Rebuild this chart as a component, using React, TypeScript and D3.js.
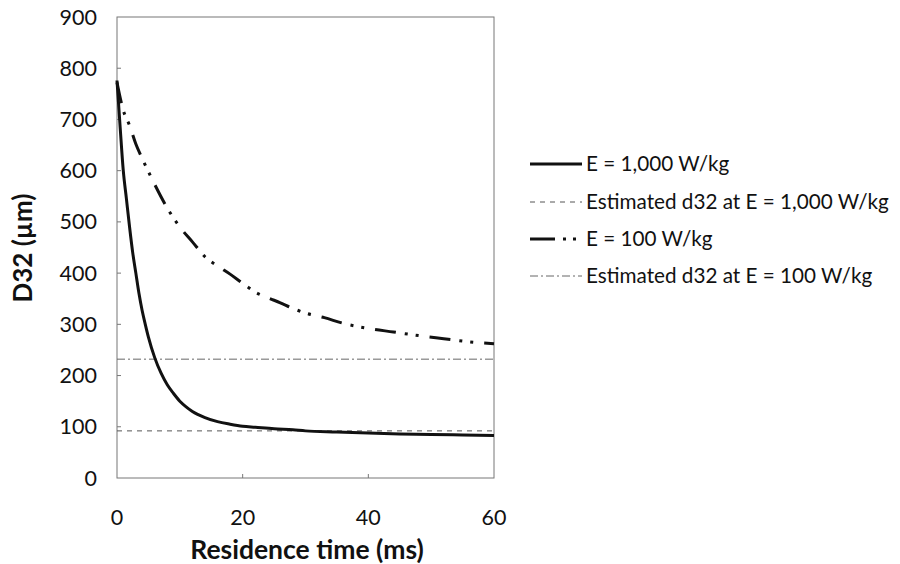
import React from "react";
import * as d3 from "d3";

// Residence time (ms) and Sauter mean diameter D32 (µm)
const timeHigh = [0, 0.5, 1, 1.5, 2, 2.5, 3, 3.5, 4, 4.5, 5, 6, 7, 8, 9, 10, 11, 12, 14, 16, 18, 20, 22, 25, 28, 30, 35, 40, 45, 50, 55, 60];
const d32High = [776, 685, 600, 545, 490, 440, 400, 360, 327, 300, 275, 235, 205, 182, 165, 150, 139, 130, 118, 110, 105, 101, 99, 96, 94, 92, 90, 88, 86, 85, 84, 83];

const timeLow = [0, 1, 2, 3, 4, 5, 6, 8, 10, 12, 14, 16, 18, 20, 22, 24, 26, 28, 30, 33, 36, 40, 44, 48, 52, 56, 60];
const d32Low = [772, 718, 688, 652, 624, 598, 573, 527, 490, 461, 432, 414, 398, 380, 363, 352, 342, 331, 322, 313, 302, 292, 285, 278, 272, 266, 262];

// Estimated equilibrium d32 for each specific energy dissipation rate
const estimatedHigh = 92;
const estimatedLow = 232;

const xTicks = [0, 20, 40, 60];
const yTicks = [0, 100, 200, 300, 400, 500, 600, 700, 800, 900];

const legendLabels = [
  "E = 1,000 W/kg",
  "Estimated d32 at E = 1,000 W/kg",
  "E = 100 W/kg",
  "Estimated d32 at E = 100 W/kg",
];

const W = 900;
const H = 564;
const plot = { left: 117, right: 494, top: 17, bottom: 478 };
const font = "Lato, 'Open Sans', sans-serif";

const styles = [
  { stroke: "#111", width: 3, dash: "none" },
  { stroke: "#555", width: 1, dash: "5,5" },
  { stroke: "#111", width: 3, dash: "21,9,3,8,3,11" },
  { stroke: "#666", width: 1, dash: "8,3,2,3" },
];

export default function App() {
  const x = d3.scaleLinear().domain([0, 60]).range([plot.left, plot.right]);
  const y = d3.scaleLinear().domain([0, 900]).range([plot.bottom, plot.top]);

  const line = d3
    .line<[number, number]>()
    .x((d) => x(d[0]))
    .y((d) => y(d[1]))
    .curve(d3.curveMonotoneX);

  const highPts = timeHigh.map((t, i) => [t, d32High[i]] as [number, number]);
  const lowPts = timeLow.map((t, i) => [t, d32Low[i]] as [number, number]);

  const legendRows = [164, 202, 239, 276];

  return (
    <div style={{ position: "absolute", left: 0, top: 0 }}>
      <svg width={W} height={H} style={{ display: "block", background: "#fff" }}>
        {/* plot frame */}
        <rect
          x={plot.left}
          y={plot.top}
          width={plot.right - plot.left}
          height={plot.bottom - plot.top}
          fill="#fff"
          stroke="#777"
          strokeWidth={1}
        />
        {/* inner tick marks */}
        {yTicks.slice(1, -1).map((v) => (
          <line key={"yt" + v} x1={plot.left} x2={plot.left + 4} y1={y(v)} y2={y(v)} stroke="#777" strokeWidth={1} />
        ))}
        {xTicks.slice(1, -1).map((v) => (
          <line key={"xt" + v} x1={x(v)} x2={x(v)} y1={plot.bottom} y2={plot.bottom - 4} stroke="#777" strokeWidth={1} />
        ))}

        {/* estimated d32 reference lines */}
        <line
          x1={x(0)}
          x2={x(60)}
          y1={y(estimatedHigh)}
          y2={y(estimatedHigh)}
          stroke={styles[1].stroke}
          strokeWidth={styles[1].width}
          strokeDasharray={styles[1].dash}
        />
        <line
          x1={x(0)}
          x2={x(60)}
          y1={y(estimatedLow)}
          y2={y(estimatedLow)}
          stroke={styles[3].stroke}
          strokeWidth={styles[3].width}
          strokeDasharray={styles[3].dash}
        />

        {/* D32 curves */}
        <path d={line(lowPts) || ""} fill="none" stroke={styles[2].stroke} strokeWidth={styles[2].width} strokeDasharray={styles[2].dash} />
        <path d={line(highPts) || ""} fill="none" stroke={styles[0].stroke} strokeWidth={styles[0].width} />

        {/* y tick labels */}
        {yTicks.map((v) => (
          <text key={"yl" + v} x={97} y={y(v)} dy="0.35em" textAnchor="end" fontFamily={font} fontSize={21.5} fill="#111">
            {v}
          </text>
        ))}
        {/* x tick labels */}
        {xTicks.map((v) => (
          <text key={"xl" + v} x={x(v)} y={517} dy="0.35em" textAnchor="middle" fontFamily={font} fontSize={21.5} fill="#111">
            {v}
          </text>
        ))}

        {/* axis titles */}
        <text x={307} y={550} dy="0.35em" textAnchor="middle" fontFamily={font} fontWeight="bold" fontSize={26.5} fill="#111">
          Residence time (ms)
        </text>
        <text
          transform={`translate(23,248) rotate(-90)`}
          dy="0.35em"
          textAnchor="middle"
          fontFamily={font}
          fontWeight="bold"
          fontSize={26}
          fill="#111"
        >
          D32 (µm)
        </text>

        {/* legend */}
        {legendLabels.map((label, i) => (
          <g key={label}>
            <line
              x1={530}
              x2={582}
              y1={legendRows[i]}
              y2={legendRows[i]}
              stroke={styles[i].stroke}
              strokeWidth={styles[i].width}
              strokeDasharray={i === 2 ? "25,8,3,7,3,6" : styles[i].dash}
            />
            <text x={586} y={legendRows[i]} dy="0.35em" fontFamily={font} fontSize={20.7} fill="#111">
              {label}
            </text>
          </g>
        ))}
      </svg>
    </div>
  );
}
